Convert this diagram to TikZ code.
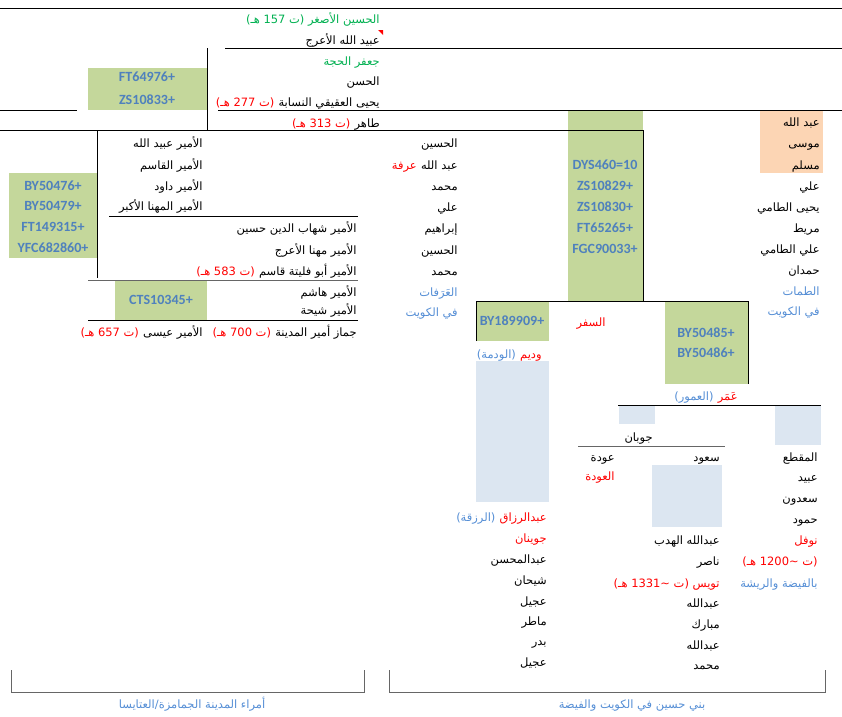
\documentclass[tikz,border=0pt]{standalone}
\usepackage{fontspec}
\TeXXeTstate=1
\newfontfamily\arabicfont[Script=Arabic]{DejaVu Sans}
\newfontfamily\codefont{Carlito}
\definecolor{cellgreen}{HTML}{C4D79B}
\definecolor{cellpeach}{HTML}{FCD5B4}
\definecolor{cellblue}{HTML}{DCE6F1}
\definecolor{codeblue}{HTML}{4F81BD}
\definecolor{lblblue}{HTML}{558ED5}
\definecolor{elder}{HTML}{00B050}
\newcommand{\artxt}[1]{{\arabicfont\beginR #1\endR}}

\begin{document}
\begin{tikzpicture}[x=.3mm,y=-.3mm,line width=.6pt,
    nm/.style={anchor=east,inner sep=0pt,text height=9pt,text depth=1.1pt,font=\fontsize{9.8}{11}\selectfont},
    lbl/.style={nm,text=lblblue},
    dth/.style={nm,text=red},
    hap/.style={inner sep=0pt,text=codeblue,font=\codefont\bfseries\fontsize{12}{14}\selectfont}]
        \useasboundingbox (0,0) rectangle (842,717);

        % cells
        \fill[cellgreen] (88,68) rectangle (207,110);
        \fill[cellgreen] (9,173) rectangle (97,258);
        \fill[cellgreen] (115,280) rectangle (207,320);
        \fill[cellgreen] (568,110) rectangle (643,301);
        \fill[cellgreen] (476,301) rectangle (549,341);
        \fill[cellgreen] (665,301) rectangle (748,384);
        \fill[cellpeach] (760,110) rectangle (823,173);
        \fill[cellblue] (476,361) rectangle (549,502);
        \fill[cellblue] (619,405) rectangle (655,424);
        \fill[cellblue] (775,405) rectangle (821,445);
        \fill[cellblue] (652,465) rectangle (722,527);
        \fill[red] (378,30)--(383,30)--(383,35)--cycle;

        % rules
        \draw (0,8)--(842,8);
        \draw (225,48)--(842,48);
        \draw (207,48)--(207,130);
        \draw (0,110)--(77,110);
        \draw (218,110)--(842,110);
        \draw (0,130)--(643,130)--(643,301);
        \draw (97,130)--(97,278);
        \draw (109,216)--(358,216);
        \draw[gray!80!black] (88,280)--(358,280);
        \draw (88,320)--(358,320);
        \draw (476,341)--(476,301)--(748,301)--(748,384);
        \draw (618,405)--(821,405);
        \draw[gray!80!black] (578,446)--(725,446);
        \draw[gray!80!black] (11,670)--(11,692)--(364,692)--(364,670);
        \draw[gray!80!black] (389,670)--(389,692)--(825,692)--(825,670);

        % upper line
        \node[nm,text=elder] (hsg) at (380,19) {\artxt{الحسين الأصغر (ت 157 هـ)}};
        \node[nm] (ubd) at (380,40) {\artxt{عبيد الله الأعرج}};
        \node[nm,text=elder] (jfr) at (380,61) {\artxt{جعفر الحجة}};
        \node[nm] (hsn) at (380,81) {\artxt{الحسن}};
        \node[nm] (yhy) at (380,102) {\artxt{يحيى العقيقي النسابة}};
        \node[dth] (yhyd) at ([xshift=-3pt]yhy.west) {\artxt{(ت 277 هـ)}};
        \node[nm] (thr) at (380,123) {\artxt{طاهر}};
        \node[dth] (thrd) at ([xshift=-3pt]thr.west) {\artxt{(ت 313 هـ)}};
        \node[hap] (h1) at (147,77) {FT64976+};
        \node[hap] (h2) at (147,100) {ZS10833+};

        % emirs of Medina
        \node[nm] (e1) at (203,143) {\artxt{الأمير عبيد الله}};
        \node[nm] (e2) at (203,165) {\artxt{الأمير القاسم}};
        \node[nm] (e3) at (203,186) {\artxt{الأمير داود}};
        \node[nm] (e4) at (203,206) {\artxt{الأمير المهنا الأكبر}};
        \node[nm] (e5) at (357,228) {\artxt{الأمير شهاب الدين حسين}};
        \node[nm] (e6) at (357,250) {\artxt{الأمير مهنا الأعرج}};
        \node[nm] (e7) at (357,271) {\artxt{الأمير أبو فليتة قاسم}};
        \node[dth] (e7d) at ([xshift=-3pt]e7.west) {\artxt{(ت 583 هـ)}};
        \node[nm] (e8) at (357,292) {\artxt{الأمير هاشم}};
        \node[nm] (e9) at (357,310) {\artxt{الأمير شيحة}};
        \node[nm] (e10) at (357,332) {\artxt{جماز أمير المدينة}};
        \node[dth] (e10d) at ([xshift=-3pt]e10.west) {\artxt{(ت 700 هـ)}};
        \node[nm] (e11) at (203,332) {\artxt{الأمير عيسى}};
        \node[dth] (e11d) at ([xshift=-3pt]e11.west) {\artxt{(ت 657 هـ)}};
        \node[hap] (h3) at (53,186) {BY50476+};
        \node[hap] (h4) at (53,206) {BY50479+};
        \node[hap] (h5) at (53,227) {FT149315+};
        \node[hap] (h6) at (53,248) {YFC682860+};
        \node[hap] (h7) at (161,300) {CTS10345+};

        % Arafat line
        \node[nm] (a1) at (458,143) {\artxt{الحسين}};
        \node[nm] (a2) at (458,165) {\artxt{عبد الله}};
        \node[dth] (a2r) at ([xshift=-3pt]a2.west) {\artxt{عرفة}};
        \node[nm] (a3) at (458,186) {\artxt{محمد}};
        \node[nm] (a4) at (458,207) {\artxt{علي}};
        \node[nm] (a5) at (458,228) {\artxt{إبراهيم}};
        \node[nm] (a6) at (458,250) {\artxt{الحسين}};
        \node[nm] (a7) at (458,271) {\artxt{محمد}};
        \node[lbl] (a8) at (458,292) {\artxt{العَرَفات}};
        \node[lbl] (a9) at (458,312) {\artxt{في الكويت}};

        % markers of the green column
        \node[hap] (h8) at (605,165) {DYS460=10};
        \node[hap] (h9) at (605,186) {ZS10829+};
        \node[hap] (h10) at (605,207) {ZS10830+};
        \node[hap] (h11) at (605,228) {FT65265+};
        \node[hap] (h12) at (605,249) {FGC90033+};

        % Tamat line
        \node[nm] (t1) at (820,122) {\artxt{عبد الله}};
        \node[nm] (t2) at (820,143) {\artxt{موسى}};
        \node[nm] (t3) at (820,165) {\artxt{مسلم}};
        \node[nm] (t4) at (820,186) {\artxt{علي}};
        \node[nm] (t5) at (820,207) {\artxt{يحيى الطامي}};
        \node[nm] (t6) at (820,228) {\artxt{مريط}};
        \node[nm] (t7) at (820,249) {\artxt{علي الطامي}};
        \node[nm] (t8) at (820,270) {\artxt{حمدان}};
        \node[lbl] (t9) at (820,291) {\artxt{الطمات}};
        \node[lbl] (t10) at (820,311) {\artxt{في الكويت}};

        % lower part
        \node[hap] (h13) at (512,321) {BY189909+};
        \node[dth] (sfr) at (606,322) {\artxt{السفر}};
        \node[hap] (h14) at (706,333) {BY50485+};
        \node[hap] (h15) at (706,353) {BY50486+};
        \node[dth] (wdm) at (542,354) {\artxt{وديم}};
        \node[lbl] (wdml) at ([xshift=-3pt]wdm.west) {\artxt{(الودمة)}};
        \node[dth] (amr) at (738,396) {\artxt{عَمَر}};
        \node[lbl] (amrl) at ([xshift=-3pt]amr.west) {\artxt{(العمور)}};
        \node[nm] (jwb) at (653,437) {\artxt{جوبان}};

        \node[dth] (w1) at (547,517) {\artxt{عبدالرزاق}};
        \node[lbl] (w1l) at ([xshift=-3pt]w1.west) {\artxt{(الرزقة)}};
        \node[dth] (w2) at (547,538) {\artxt{جوينان}};
        \node[nm] (w3) at (547,559) {\artxt{عبدالمحسن}};
        \node[nm] (w4) at (547,580) {\artxt{شيحان}};
        \node[nm] (w5) at (547,601) {\artxt{عجيل}};
        \node[nm] (w6) at (547,621) {\artxt{ماطر}};
        \node[nm] (w7) at (547,641) {\artxt{بدر}};
        \node[nm] (w8) at (547,662) {\artxt{عجيل}};

        \node[nm] (o1) at (615,457) {\artxt{عودة}};
        \node[dth] (o2) at (615,476) {\artxt{العودة}};

        \node[nm] (s1) at (720,457) {\artxt{سعود}};
        \node[nm] (s2) at (720,540) {\artxt{عبدالله الهدب}};
        \node[nm] (s3) at (720,561) {\artxt{ناصر}};
        \node[dth] (s4) at (720,583) {\artxt{تويس (ت \textasciitilde1331 هـ)}};
        \node[nm] (s5) at (720,603) {\artxt{عبدالله}};
        \node[nm] (s6) at (720,624) {\artxt{مبارك}};
        \node[nm] (s7) at (720,645) {\artxt{عبدالله}};
        \node[nm] (s8) at (720,665) {\artxt{محمد}};

        \node[nm] (m1) at (818,457) {\artxt{المقطع}};
        \node[nm] (m2) at (818,477) {\artxt{عبيد}};
        \node[nm] (m3) at (818,498) {\artxt{سعدون}};
        \node[nm] (m4) at (818,519) {\artxt{حمود}};
        \node[dth] (m5) at (818,540) {\artxt{نوفل}};
        \node[dth] (m6) at (818,561) {\artxt{(ت \textasciitilde1200 هـ)}};
        \node[lbl] (m7) at (818,583) {\artxt{بالفيضة والريشة}};

        % brackets
        \node[lbl,anchor=center] (grp1) at (192,704) {\artxt{أمراء المدينة الجمامزة/العتايسا}};
        \node[lbl,anchor=center] (grp2) at (632,704) {\artxt{بني حسين في الكويت والفيضة}};

    \end{tikzpicture}
\end{document}
